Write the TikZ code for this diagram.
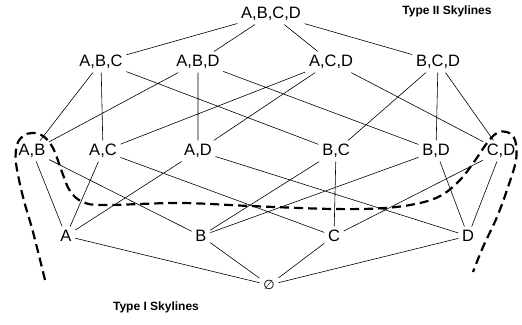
\documentclass[tikz,border=0pt]{standalone}
\usepackage{fontspec}
\setmainfont{Liberation Sans}
\newfontfamily\symfont{DejaVu Sans}
\usepackage{tikz}

\begin{document}
\begin{tikzpicture}[x=1pt,y=-1pt,
                    line width=0.6pt,
                    set/.style={inner sep=3.5pt,
                    font=\fontsize{16.5}{19}\selectfont},
                    caption/.style={font=\bfseries\fontsize{12}{14}\selectfont},
                    cut/.style={line width=2.2pt,
                    dash pattern=on 9pt off 5pt}]
    \useasboundingbox (0,0) rectangle (522,324);
    \node[set](nABCD) at (271,14) {A,B,C,D};
    \node[set](nABC) at (101,62) {A,B,C};
    \node[set](nABD) at (198,62) {A,B,D};
    \node[set](nACD) at (331,62) {A,C,D};
    \node[set](nBCD) at (438,62) {B,C,D};
    \node[set](nAB) at (32,151) {A,B};
    \node[set](nAC) at (103,151) {A,C};
    \node[set](nAD) at (198,151) {A,D};
    \node[set](nBC) at (336,151) {B,C};
    \node[set](nBD) at (436,151) {B,D};
    \node[set](nCD) at (501,151) {C,D};
    \node[set](nA) at (66,236) {A};
    \node[set](nB) at (201,236) {B};
    \node[set](nC) at (334,236) {C};
    \node[set](nD) at (468,236) {D};
    \node[set,font=\symfont\fontsize{13}{15}\selectfont](nE) at (269,285) {∅};
    \node[caption](t2) at (447,11) {Type II Skylines};
    \node[caption](t1) at (156,307) {Type I Skylines};

    \draw (nABCD) -- (nABC) (nABCD) -- (nABD)
          (nABCD) -- (nACD) (nABCD) -- (nBCD);
    \draw (nABC) -- (nAB) (nABC) -- (nAC) (nABC) -- (nBC)
          (nABD) -- (nAB) (nABD) -- (nAD) (nABD) -- (nBD)
          (nACD) -- (nAC) (nACD) -- (nAD) (nACD) -- (nCD)
          (nBCD) -- (nBC) (nBCD) -- (nBD) (nBCD) -- (nCD);
    \draw (nAB) -- (nA) (nAB) -- (nB)
          (nAC) -- (nA) (nAC) -- (nC)
          (nAD) -- (nA) (nAD) -- (nD)
          (nBC) -- (nB) (nBC) -- (nC)
          (nBD) -- (nB) (nBD) -- (nD)
          (nCD) -- (nC) (nCD) -- (nD);
    \draw (nA) -- (nE) (nB) -- (nE) (nC) -- (nE) (nD) -- (nE);

    \draw[cut] plot[smooth,tension=0.6] coordinates {(45,280) (33,232)
        (23,197) (16,163) (17,145) (23,136) (32,133) (43,136) (53,148)
        (62,172) (70,191) (83,202) (105,205) (180,203) (250,206)
        (333,209) (385,208) (420,203) (442,195) (460,180) (474,162)
        (487,143) (497,133) (507,132) (515,140) (516,160) (508,187)
        (497,217) (483,247) (473,272)};
\end{tikzpicture}
\end{document}
